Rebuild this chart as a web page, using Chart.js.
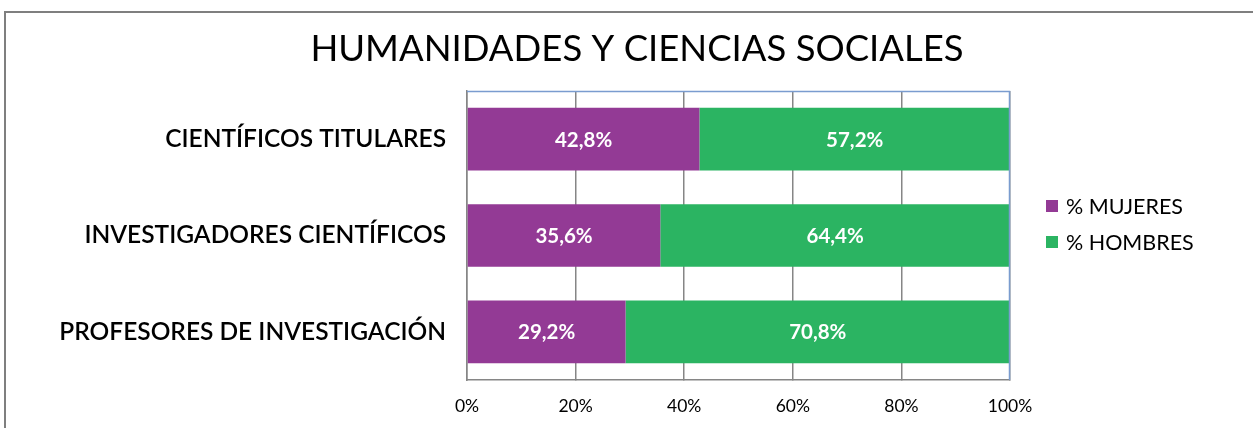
<!DOCTYPE html>
<html>
<head>
<meta charset="utf-8">
<script src="https://cdn.jsdelivr.net/npm/chart.js@4/dist/chart.umd.min.js"></script>
<style>
  html, body { margin: 0; padding: 0; background: #fff; overflow: hidden; }
  #wrap { position: relative; width: 1253px; height: 428px; }
  #frame { position: absolute; left: 4px; top: 11px; width: 1260px; height: 440px; border: 2px solid #7f7f7f; box-sizing: border-box; }
  canvas { position: absolute; left: 0; top: 0; }
</style>
</head>
<body>
<div id="wrap">
  <div id="frame"></div>
  <canvas id="chart" width="1253" height="428"></canvas>
</div>
<script>
// chart data
const title = 'HUMANIDADES Y CIENCIAS SOCIALES';
const categories = ['CIENTÍFICOS TITULARES', 'INVESTIGADORES CIENTÍFICOS', 'PROFESORES DE INVESTIGACIÓN'];
const seriesNames = ['% MUJERES', '% HOMBRES'];
const mujeres = [42.8, 35.6, 29.2];
const hombres = [57.2, 64.4, 70.8];
const xTicks = [0, 20, 40, 60, 80, 100];

const purple = '#933a95';
const green = '#2bb462';
const font = "'Lato', 'Open Sans', sans-serif";

// white value labels inside each bar segment, plus title, legend and plot outline
const decorations = {
  id: 'decorations',
  afterDatasetsDraw(chart) {
    const ctx = chart.ctx;
    ctx.save();
    ctx.fillStyle = '#fff';
    ctx.font = 'bold 20.5px ' + font;
    ctx.textAlign = 'center';
    ctx.textBaseline = 'middle';
    chart.data.datasets.forEach((ds, i) => {
      chart.getDatasetMeta(i).data.forEach((bar, j) => {
        const cx = (bar.x + bar.base) / 2;
        ctx.fillText(ds.data[j].toFixed(1).replace('.', ',') + '%', cx, bar.y + 1);
      });
    });
    ctx.restore();
  },
  afterDraw(chart) {
    const ctx = chart.ctx;
    const a = chart.chartArea;
    ctx.save();
    // top and right edges of plot area are blue in the original
    ctx.strokeStyle = '#7a9ccf';
    ctx.lineWidth = 1.5;
    ctx.beginPath();
    ctx.moveTo(a.left, a.top + 0.5);
    ctx.lineTo(a.right - 0.5, a.top + 0.5);
    ctx.lineTo(a.right - 0.5, a.bottom);
    ctx.stroke();

    // title
    ctx.fillStyle = '#000';
    ctx.font = '36.5px ' + font;
    ctx.textAlign = 'center';
    ctx.textBaseline = 'middle';
    ctx.fillText(title, 637, 49);

    // legend
    ctx.font = '21.5px ' + font;
    ctx.textAlign = 'left';
    const colors = [purple, green];
    seriesNames.forEach((name, i) => {
      const y = 206 + i * 36;
      ctx.fillStyle = colors[i];
      ctx.fillRect(1046, y - 6, 12, 12);
      ctx.fillStyle = '#000';
      ctx.fillText(name, 1066, y + 1);
    });
    ctx.restore();
  }
};

new Chart(document.getElementById('chart'), {
  type: 'bar',
  data: {
    labels: categories,
    datasets: [
      { label: seriesNames[0], data: mujeres, backgroundColor: purple, borderWidth: 0 },
      { label: seriesNames[1], data: hombres, backgroundColor: green, borderWidth: 0 }
    ]
  },
  options: {
    indexAxis: 'y',
    responsive: false,
    animation: false,
    events: [],
    layout: { padding: { top: 91, right: 243, left: 0, bottom: 0 } },
    plugins: {
      legend: { display: false },
      title: { display: false },
      tooltip: { enabled: false }
    },
    datasets: {
      bar: { categoryPercentage: 0.65, barPercentage: 1 }
    },
    scales: {
      x: {
        stacked: true,
        min: 0,
        max: 100,
        afterBuildTicks: s => { s.ticks = xTicks.map(v => ({ value: v })); },
        afterFit: s => { s.height = 48; },
        grid: { color: '#868686', lineWidth: 1.5, tickLength: 0 },
        border: { color: '#868686', width: 1.5 },
        ticks: {
          color: '#000',
          padding: 16,
          font: { family: font, size: 17.5 },
          callback: v => v + '%'
        }
      },
      y: {
        stacked: true,
        afterFit: s => { s.width = 467; },
        grid: { display: false, tickLength: 0 },
        border: { color: '#868686', width: 1.5 },
        ticks: {
          color: '#000',
          padding: 21,
          font: { family: font, size: 24.5, weight: '600' }
        }
      }
    }
  },
  plugins: [decorations]
});
</script>
</body>
</html>
